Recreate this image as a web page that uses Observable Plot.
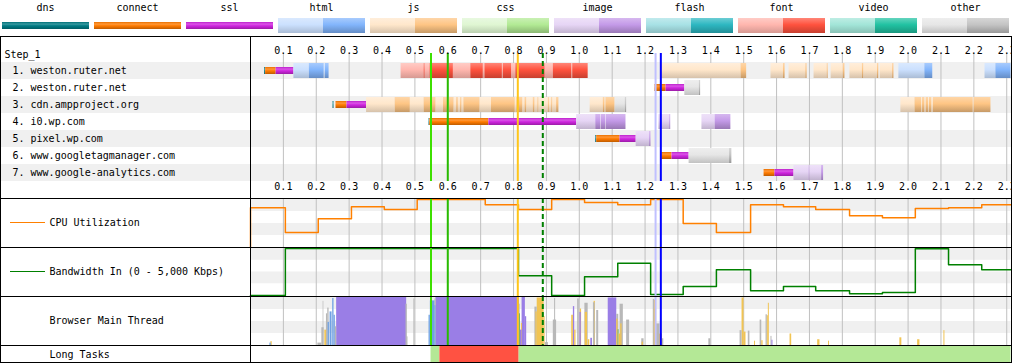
<!DOCTYPE html>
<html><head><meta charset="utf-8">
<script src="https://cdn.jsdelivr.net/npm/d3@7"></script>
<script src="https://cdn.jsdelivr.net/npm/@observablehq/plot@0.6"></script>
<style>
body{margin:0;background:#fff;}
#root{position:relative;width:1012px;height:363px;overflow:hidden;font-family:"DejaVu Sans Mono",monospace;font-size:10px;color:#000;}
#root svg{position:absolute;left:0;}
.ln{position:absolute;background:#000;}
.leg{position:absolute;top:0;width:87px;height:36px;}
.leg .lab{position:absolute;top:2px;left:0;width:87px;text-align:center;line-height:12px;}
.leg .bar{position:absolute;}
.swatch{position:absolute;left:10px;width:35px;height:1px;}
</style></head><body><div id="root"></div>
<script>
// ---------------- DATA ----------------
const legendTypes = ["dns","connect","ssl","html","js","css","image","flash","font","video","other"];
const rowLabels = ["1. weston.ruter.net","2. weston.ruter.net","3. cdn.ampproject.org","4. i0.wp.com","5. pixel.wp.com","6. www.googletagmanager.com","7. www.google-analytics.com"];
const stepLabel = "Step_1";
const tickValues = [0.1,0.2,0.3,0.4,0.5,0.6,0.7,0.8,0.9,1.0,1.1,1.2,1.3,1.4,1.5,1.6,1.7,1.8,1.9,2.0,2.1,2.2,2.3];
const tMax = 2.313;

// connection phases: [row, start, end, phase]
const connPhases = [
  [1,0.043,0.046,"dns"],[1,0.046,0.078,"connect"],[1,0.078,0.132,"ssl"],
  [2,1.230,1.264,"connect"],[2,1.264,1.321,"ssl"],
  [3,0.251,0.254,"dns"],[3,0.260,0.2935,"connect"],[3,0.2935,0.353,"ssl"],
  [4,0.543,0.545,"dns"],[4,0.545,0.725,"connect"],[4,0.725,0.992,"ssl"],
  [5,1.050,1.053,"dns"],[5,1.053,1.124,"connect"],[5,1.124,1.173,"ssl"],
  [6,1.248,1.251,"dns"],[6,1.251,1.282,"connect"],[6,1.282,1.334,"ssl"],
  [7,1.562,1.595,"connect"],[7,1.595,1.653,"ssl"]
];
// content: [row, start, end, type, phase L=waiting D=downloading]
const contentSegs = [
  [1,0.132,0.179,"html","L"],[1,0.179,0.224,"html","D"],[1,0.224,0.228,"html","L"],[1,0.228,0.239,"html","D"],
  [1,0.458,0.528,"font","L"],[1,0.528,0.531,"font","D"],[1,0.531,0.546,"font","L"],[1,0.546,0.617,"font","D"],
  [1,0.617,0.670,"font","L"],[1,0.670,0.708,"font","D"],[1,0.708,0.713,"font","L"],[1,0.713,0.766,"font","D"],
  [1,0.766,0.769,"font","L"],[1,0.769,0.794,"font","D"],[1,0.794,0.807,"font","L"],[1,0.807,0.896,"font","D"],
  [1,0.896,0.921,"font","L"],[1,0.921,0.977,"font","D"],[1,0.977,0.980,"font","L"],[1,0.980,1.027,"font","D"],
  [1,1.248,1.492,"js","L"],[1,1.492,1.509,"js","D"],[1,1.583,1.621,"js","L"],[1,1.621,1.626,"js","D"],
  [1,1.638,1.689,"js","L"],[1,1.689,1.693,"js","D"],[1,1.714,1.754,"js","L"],[1,1.754,1.757,"js","D"],
  [1,1.766,1.803,"js","L"],[1,1.803,1.808,"js","D"],[1,1.823,1.861,"js","L"],[1,1.861,1.865,"js","D"],
  [1,1.865,1.907,"js","L"],[1,1.907,1.911,"js","D"],[1,1.915,1.953,"js","L"],[1,1.953,1.957,"js","D"],
  [1,1.972,2.051,"html","L"],[1,2.051,2.075,"html","D"],[1,2.234,2.267,"html","L"],[1,2.267,2.313,"html","D"],
  [2,1.321,1.365,"other","L"],[2,1.365,1.369,"other","D"],
  [3,0.353,0.440,"js","L"],[3,0.440,0.486,"js","D"],[3,0.486,0.528,"js","L"],[3,0.528,0.564,"js","D"],
  [3,0.564,0.587,"js","L"],[3,0.587,0.600,"js","D"],[3,0.600,0.604,"js","L"],[3,0.604,0.619,"js","D"],
  [3,0.619,0.627,"js","L"],[3,0.627,0.632,"js","D"],[3,0.632,0.639,"js","L"],[3,0.639,0.643,"js","D"],
  [3,0.643,0.649,"js","L"],[3,0.649,0.698,"js","D"],[3,0.698,0.733,"js","L"],[3,0.733,0.805,"js","D"],
  [3,0.805,0.810,"js","L"],[3,0.810,0.828,"js","D"],[3,0.828,0.835,"js","L"],[3,0.835,0.840,"js","D"],
  [3,0.840,0.860,"js","L"],[3,0.860,0.865,"js","D"],[3,0.865,0.874,"js","L"],[3,0.874,0.877,"js","D"],
  [3,0.877,0.906,"js","L"],[3,0.906,0.909,"js","D"],[3,0.909,0.916,"js","L"],[3,0.916,0.919,"js","D"],
  [3,0.919,0.931,"js","L"],[3,0.931,0.938,"js","D"],
  [3,1.033,1.073,"js","L"],[3,1.073,1.078,"js","D"],[3,1.078,1.081,"js","L"],[3,1.081,1.109,"js","D"],
  [3,1.109,1.140,"other","L"],[3,1.140,1.144,"other","D"],
  [3,1.978,2.021,"js","L"],[3,2.021,2.041,"js","D"],[3,2.041,2.044,"js","L"],[3,2.044,2.051,"js","D"],
  [3,2.051,2.055,"js","L"],[3,2.055,2.062,"js","D"],[3,2.062,2.065,"js","L"],[3,2.065,2.072,"js","D"],
  [3,2.072,2.077,"js","L"],[3,2.077,2.198,"js","D"],[3,2.198,2.201,"js","L"],[3,2.201,2.252,"js","D"],
  [4,0.992,1.050,"image","L"],[4,1.050,1.065,"image","D"],[4,1.065,1.067,"image","L"],[4,1.067,1.080,"image","D"],
  [4,1.080,1.082,"image","L"],[4,1.082,1.142,"image","D"],
  [4,1.242,1.275,"image","L"],[4,1.275,1.278,"image","D"],[4,1.373,1.413,"image","L"],[4,1.413,1.461,"image","D"],
  [5,1.173,1.214,"image","L"],[5,1.214,1.218,"image","D"],
  [6,1.334,1.457,"other","L"],[6,1.457,1.464,"other","D"],
  [7,1.653,1.699,"image","L"],[7,1.699,1.701,"image","D"],[7,1.701,1.737,"image","L"],[7,1.737,1.743,"image","D"]
];

const eventNames = ["firstContentfulPaint","startRender","domInteractive","largestContentfulPaint","onLoad","documentComplete"];
const eventTimes = [0.549,0.600,0.813,0.889,1.232,1.248];

const cpuTimes  = [0,0,0.106,0.206,0.307,0.407,0.507,0.610,0.714,0.815,0.916,1.016,1.117,1.217,1.316,1.417,1.521,1.621,1.719,1.822,1.922,2.022,2.123,2.224,2.330];
const cpuValues = [0,83,31,60,85,79,100,100,89,79,100,94,89,100,50,31,89,85,79,66,62,81,83,89,89];

const bwTimes  = [0,0.106,0.815,0.916,1.016,1.117,1.217,1.316,1.417,1.521,1.621,1.719,1.822,1.922,2.022,2.123,2.224,2.330];
const bwValues = [0,5000,2100,0,1990,3440,110,960,2730,500,960,500,180,320,4970,3270,2730,2730];

// main thread: [start, end, percent, category]
const mainThread = [
  [0.059,0.063,5,"loading"],[0.062,0.066,8,"scripting"],[0.205,0.217,5,"other"],[0.217,0.224,37,"other"],
  [0.221,0.223,92,"other"],[0.226,0.231,32,"scripting"],[0.231,0.235,66,"other"],[0.235,0.239,78,"other"],
  [0.236,0.240,48,"loading"],[0.242,0.248,70,"loading"],[0.250,0.254,98,"loading"],[0.254,0.258,63,"loading"],
  [0.258,0.262,39,"other"],[0.262,0.475,100,"rendering"],[0.473,0.477,86,"other"],[0.475,0.479,18,"other"],
  [0.497,0.500,97,"other"],[0.543,0.547,63,"loading"],[0.547,0.561,93,"loading"],[0.561,0.565,97,"other"],
  [0.561,0.564,83,"loading"],[0.564,0.818,100,"rendering"],[0.816,0.820,86,"other"],[0.818,0.821,66,"painting"],
  [0.821,0.826,32,"rendering"],[0.824,0.827,46,"scripting"],[0.826,0.836,100,"rendering"],[0.836,0.840,60,"rendering"],
  [0.865,0.872,80,"other"],[0.868,0.872,70,"scripting"],[0.872,0.893,99,"scripting"],[0.893,0.896,60,"scripting"],
  [0.897,0.906,6,"other"],[0.921,0.931,53,"other"],[0.925,0.928,98,"other"],
  [0.977,0.982,63,"scripting"],[0.982,0.986,81,"rendering"],[0.986,0.990,32,"scripting"],[0.995,1.000,97,"other"],
  [1.002,1.006,69,"rendering"],[1.003,1.007,76,"scripting"],[1.017,1.027,88,"other"],[1.018,1.025,69,"scripting"],
  [1.027,1.032,12,"scripting"],[1.035,1.040,15,"rendering"],[1.043,1.048,89,"other"],[1.045,1.049,92,"scripting"],
  [1.053,1.059,73,"other"],[1.088,1.114,99,"rendering"],[1.114,1.120,65,"other"],[1.114,1.118,55,"scripting"],
  [1.118,1.121,33,"painting"],[1.121,1.126,24,"scripting"],[1.124,1.134,86,"other"],[1.126,1.130,45,"scripting"],
  [1.144,1.153,53,"other"],[1.190,1.197,14,"other"],[1.191,1.195,7,"scripting"],
  [1.225,1.230,96,"other"],[1.228,1.235,76,"scripting"],[1.229,1.232,94,"scripting"],[1.235,1.245,45,"other"],
  [1.245,1.253,24,"scripting"],[1.253,1.257,14,"other"],[1.394,1.400,14,"other"],
  [1.489,1.495,31,"other"],[1.495,1.501,99,"scripting"],[1.501,1.507,28,"scripting"],[1.514,1.519,30,"other"],
  [1.533,1.536,9,"scripting"],[1.550,1.555,53,"other"],[1.555,1.559,10,"scripting"],[1.568,1.572,64,"other"],
  [1.572,1.575,62,"scripting"],[1.575,1.578,88,"scripting"],[1.583,1.586,19,"other"],[1.586,1.589,11,"rendering"],
  [1.641,1.646,24,"scripting"],[1.725,1.732,12,"scripting"],[1.758,1.761,9,"scripting"],
  [1.975,1.981,16,"scripting"],[2.029,2.036,12,"scripting"],[2.109,2.112,31,"scripting"]
];
// long tasks: [start, end, kind]
const longTasks = [[0.549,0.576,"interactive"],[0.576,0.817,"blocked"],[0.817,2.313,"interactive"]];

// ---------------- STYLES ----------------
const typeColors = {dns:[0,123,132],connect:[255,123,0],ssl:[207,37,223],html:[130,181,252],js:[254,197,132],css:[178,234,148],image:[196,154,232],flash:[45,183,193],font:[255,82,62],video:[33,194,162],other:[196,196,196]};
const eventStyle = {
  firstContentfulPaint:{color:"#3ee000"}, startRender:{color:"#28bc00"}, domInteractive:{color:"#ffc61a"},
  largestContentfulPaint:{color:"#008000",dash:"5,3"}, onLoad:{color:"#c0c0ff"}, documentComplete:{color:"#0000ff"}
};
const mtCats = ["loading","scripting","rendering","painting","other"];
const mtColors = ["#70a2e3","#f1c453","#9a7ee6","#71b363","#b8b8b8"];
const stripeFractions = [[0.25,0.5],[0.75,1.0]];
const fontStyle = {fontFamily:'"DejaVu Sans Mono", monospace', fontSize:"10px", color:"#000", background:"transparent", overflow:"hidden"};
const xOpt = {domain:[0,tMax], range:[250,1010.5], axis:null};

const clamp = v => Math.max(0, Math.min(255, Math.round(v)));
const rgb = a => `rgb(${a.map(clamp).join(",")})`;
const mixW = (c,t) => c.map(v => v + (255 - v) * t);
const mul = (c,k) => c.map(v => v * k);
function barStops(c, light){
  const base = light ? mixW(c, 0.58) : c;
  return [[0, rgb(mixW(base, 0.3))],[0.45, rgb(base)],[1, rgb(mul(base, light ? 0.84 : 0.78))]];
}
function thinStops(c){
  return [[0, rgb(mul(c,0.92))],[0.3, rgb(mixW(c,0.22))],[0.55, rgb(c)],[1, rgb(mul(c,0.75))]];
}
const cssGrad = stops => `linear-gradient(to bottom, ${stops.map(([o,c]) => `${c} ${o*100}%`).join(", ")})`;

const root = document.getElementById("root");

// ---------------- LEGEND ----------------
legendTypes.forEach((t, i) => {
  const d = document.createElement("div");
  d.className = "leg"; d.style.left = (2 + 92*i) + "px";
  const lab = document.createElement("div"); lab.className = "lab"; lab.textContent = t; d.appendChild(lab);
  const c = typeColors[t];
  if (["dns","connect","ssl"].includes(t)) {
    const b = document.createElement("div"); b.className = "bar";
    Object.assign(b.style, {left:"0px", top:"22px", width:"87px", height:"7px", background: cssGrad(thinStops(c))});
    d.appendChild(b);
  } else {
    const b1 = document.createElement("div"); b1.className = "bar";
    Object.assign(b1.style, {left:"0px", top:"18px", width:"45px", height:"15px", background: cssGrad(barStops(c, true))});
    const b2 = document.createElement("div"); b2.className = "bar";
    Object.assign(b2.style, {left:"45px", top:"18px", width:"42px", height:"15px", background: cssGrad(barStops(c, false))});
    d.appendChild(b1); d.appendChild(b2);
  }
  root.appendChild(d);
});

function eventMarks(){
  return eventNames.map((n, i) => Plot.ruleX([eventTimes[i]], {stroke: eventStyle[n].color, strokeWidth: 2, strokeDasharray: eventStyle[n].dash}));
}
function place(svg, top){ svg.style.top = top + "px"; root.appendChild(svg); return svg; }

// ---------------- WATERFALL ----------------
const rowIds = rowLabels.map((_, i) => i + 1);
const rows = rowLabels.map((label, i) => ({id: i + 1, label}));
const contentMarks = [];
for (const t of legendTypes) for (const ph of ["L","D"]) {
  const ds = contentSegs.filter(d => d[3] === t && d[4] === ph);
  if (ds.length) contentMarks.push(Plot.barX(ds, {x1: d => d[1], x2: d => d[2], y: d => d[0], insetTop: 1, insetBottom: 1, fill: `url(#g-${t}-${ph})`}));
}
const phaseMarks = ["dns","connect","ssl"].map(p =>
  Plot.barX(connPhases.filter(d => d[3] === p), {x1: d => d[1], x2: d => d[2], y: d => d[0], insetTop: 5, insetBottom: 5, fill: `url(#g-${p})`}));

const wf = Plot.plot({
  width: 1012, height: 162, marginLeft: 0, marginRight: 0, marginTop: 17, marginBottom: 17,
  style: fontStyle,
  x: xOpt,
  y: {type: "band", domain: rowIds, range: [25.5, 144.5], padding: 0, axis: null},
  marks: [
    Plot.cell(rows.filter(r => r.id % 2 === 1), {y: "id", fill: "#f0f0f0"}),
    Plot.ruleX(tickValues, {stroke: "#c0c0c0"}),
    ...phaseMarks,
    ...contentMarks,
    ...eventMarks(),
    Plot.text(tickValues, {x: d => d, text: d => d.toFixed(1), frameAnchor: "top", dy: -7}),
    Plot.text(tickValues, {x: d => d, text: d => d.toFixed(1), frameAnchor: "bottom", dy: 8}),
    Plot.text(rows, {y: "id", text: "label", frameAnchor: "left", textAnchor: "start", dx: 12}),
    Plot.text([stepLabel], {text: d => d, frameAnchor: "top-left", textAnchor: "start", dx: 4, dy: -3})
  ]
});
(function addGradients(svg){
  const ns = "http://www.w3.org/2000/svg";
  const defs = document.createElementNS(ns, "defs");
  const add = (id, stops) => {
    const g = document.createElementNS(ns, "linearGradient");
    g.setAttribute("id", id); g.setAttribute("x1","0"); g.setAttribute("y1","0"); g.setAttribute("x2","0"); g.setAttribute("y2","1");
    for (const [o, c] of stops) { const s = document.createElementNS(ns, "stop"); s.setAttribute("offset", o); s.setAttribute("stop-color", c); g.appendChild(s); }
    defs.appendChild(g);
  };
  for (const t of legendTypes) {
    if (["dns","connect","ssl"].includes(t)) add(`g-${t}`, thinStops(typeColors[t]));
    else { add(`g-${t}-L`, barStops(typeColors[t], true)); add(`g-${t}-D`, barStops(typeColors[t], false)); }
  }
  svg.insertBefore(defs, svg.firstChild);
})(wf);
place(wf, 36);

// ---------------- CPU ----------------
const cpuData = cpuTimes.map((t, i) => ({t, v: cpuValues[i]}));
place(Plot.plot({
  width: 1012, height: 49, margin: 0, style: fontStyle, x: xOpt,
  y: {domain: [0, 100], range: [49, 1], axis: null},
  marks: [
    Plot.rect(stripeFractions, {x1: 0, x2: tMax, y1: d => d[0]*100, y2: d => d[1]*100, fill: "#f0f0f0"}),
    Plot.ruleX(tickValues, {stroke: "#c0c0c0"}),
    Plot.line(cpuData, {x: "t", y: "v", curve: "step-after", stroke: "#ff8000", strokeWidth: 1.5}),
    ...eventMarks(),
    Plot.text(["CPU Utilization"], {text: d => d, frameAnchor: "left", textAnchor: "start", dx: 49})
  ]
}), 198);

// ---------------- BANDWIDTH ----------------
const bwData = bwTimes.map((t, i) => ({t, v: bwValues[i]}));
place(Plot.plot({
  width: 1012, height: 49, margin: 0, style: fontStyle, x: xOpt,
  y: {domain: [0, 5000], range: [48, 1], axis: null},
  marks: [
    Plot.rect(stripeFractions, {x1: 0, x2: tMax, y1: d => d[0]*5000, y2: d => d[1]*5000, fill: "#f0f0f0"}),
    Plot.ruleX(tickValues, {stroke: "#c0c0c0"}),
    Plot.line(bwData, {x: "t", y: "v", curve: "step-after", stroke: "#008000", strokeWidth: 1.5}),
    ...eventMarks(),
    Plot.text(["Bandwidth In (0 - 5,000 Kbps)"], {text: d => d, frameAnchor: "left", textAnchor: "start", dx: 49})
  ]
}), 247);

// ---------------- MAIN THREAD ----------------
const mtSorted = d3.sort(mainThread, d => -d[2]);
place(Plot.plot({
  width: 1012, height: 49, margin: 0, style: fontStyle, x: xOpt,
  y: {domain: [0, 100], range: [49, 1], axis: null},
  color: {domain: mtCats, range: mtColors},
  marks: [
    Plot.rect(stripeFractions, {x1: 0, x2: tMax, y1: d => d[0]*100, y2: d => d[1]*100, fill: "#f0f0f0"}),
    Plot.ruleX(tickValues, {stroke: "#c0c0c0"}),
    Plot.rect(mtSorted, {x1: d => d[0], x2: d => d[1], y1: 0, y2: d => d[2], fill: d => d[3]}),
    ...eventMarks(),
    Plot.text(["Browser Main Thread"], {text: d => d, frameAnchor: "left", textAnchor: "start", dx: 49})
  ]
}), 296);

// ---------------- LONG TASKS ----------------
place(Plot.plot({
  width: 1012, height: 18, marginLeft: 0, marginRight: 0, marginTop: 1, marginBottom: 1, style: fontStyle, x: xOpt,
  color: {domain: ["interactive","blocked"], range: ["#b4e896","#ff5242"]},
  marks: [
    Plot.barX(longTasks, {x1: d => d[0], x2: d => d[1], fill: d => d[2]}),
    Plot.text(["Long Tasks"], {text: d => d, frameAnchor: "left", textAnchor: "start", dx: 49})
  ]
}), 345);

// ---------------- BORDERS & LINE SWATCHES ----------------
function ln(l, t, w, h){ const d = document.createElement("div"); d.className = "ln"; Object.assign(d.style, {left: l+"px", top: t+"px", width: w+"px", height: h+"px"}); root.appendChild(d); }
[36,198,247,296,345,362].forEach(y => ln(0, y, 1012, 1));
ln(0, 36, 1, 327); ln(1011, 36, 1, 327); ln(250, 36, 1, 327);
function sw(top, color){ const d = document.createElement("div"); d.className = "swatch"; d.style.top = top + "px"; d.style.background = color; root.appendChild(d); }
sw(222, "#ff8000"); sw(271, "#008000");
</script>
</body></html>
